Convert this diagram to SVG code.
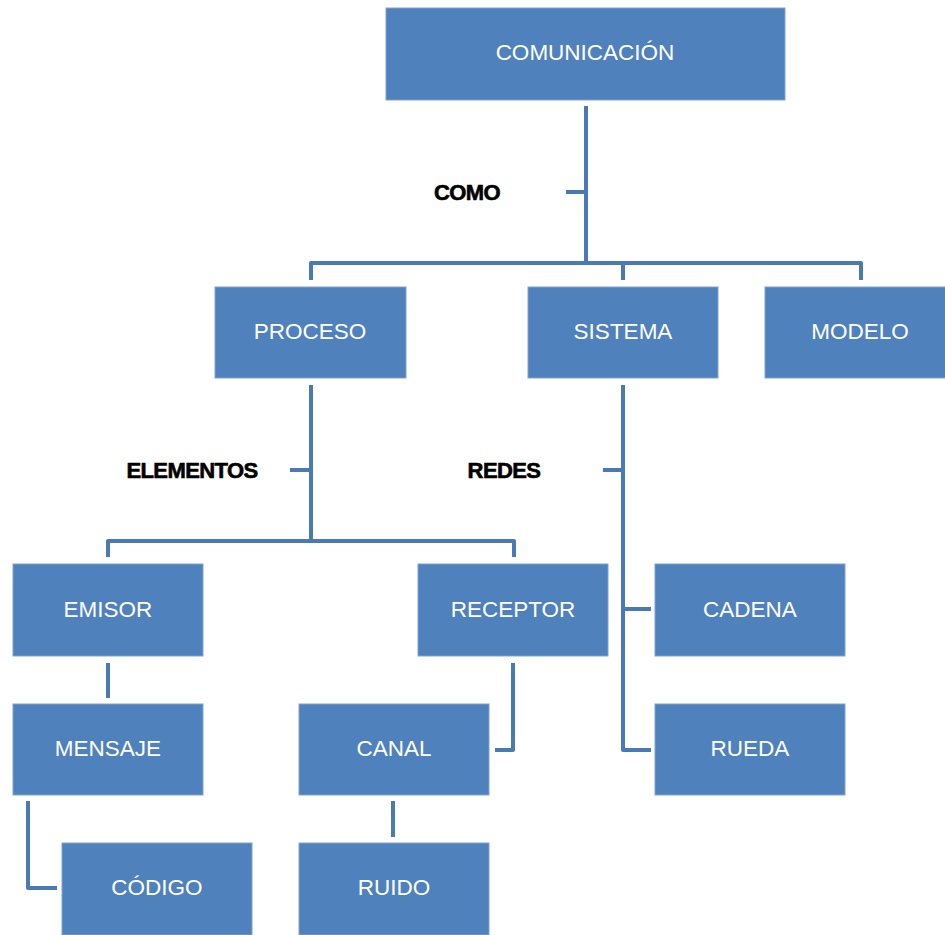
<svg xmlns="http://www.w3.org/2000/svg" width="945" height="935" viewBox="0 0 945 935">
<style>
.box{fill:#4F81BD;stroke:#7FA3D0;stroke-width:1}
.t{font-family:"Liberation Sans",Arial,sans-serif;font-size:22.5px;fill:#ffffff;text-anchor:middle;dominant-baseline:central}
.lbl{font-family:"Liberation Sans",Arial,sans-serif;font-size:22px;font-weight:bold;fill:#000;stroke:#000;stroke-width:0.6;letter-spacing:-0.6px;text-anchor:middle;dominant-baseline:central}
.c{fill:none;stroke:#4A7AB5;stroke-width:4;stroke-linejoin:round;stroke-linecap:butt}
</style>
<rect width="945" height="935" fill="#ffffff"/>
<g id="connectors">
<path class="c" d="M586,106 V263"/>
<path class="c" d="M566,192 H586"/>
<path class="c" d="M311,280 V263 H861 V280"/>
<path class="c" d="M623,263 V280"/>
<path class="c" d="M311,385 V541"/>
<path class="c" d="M290,470 H311"/>
<path class="c" d="M108,557 V541 H514 V557"/>
<path class="c" d="M623,385 V750 H651"/>
<path class="c" d="M603,470 H623"/>
<path class="c" d="M623,609 H651"/>
<path class="c" d="M108,663 V698"/>
<path class="c" d="M28,801 V888 H57"/>
<path class="c" d="M513,663 V750 H495"/>
<path class="c" d="M393,801 V837"/>
</g>
<g id="lbl-como"><text class="lbl" x="467" y="192">COMO</text></g>
<g id="lbl-elementos"><text class="lbl" x="192" y="470">ELEMENTOS</text></g>
<g id="lbl-redes"><text class="lbl" x="504" y="470">REDES</text></g>
<g id="comunicacion"><rect class="box" x="386" y="8" width="399" height="92"/><text class="t" x="585" y="52">COMUNICACIÓN</text></g>
<g id="proceso"><rect class="box" x="215" y="287" width="191" height="91"/><text class="t" x="310" y="331">PROCESO</text></g>
<g id="sistema"><rect class="box" x="528" y="287" width="190" height="91"/><text class="t" x="623" y="331">SISTEMA</text></g>
<g id="modelo"><rect class="box" x="765" y="287" width="181" height="91"/><text class="t" x="860" y="331">MODELO</text></g>
<g id="emisor"><rect class="box" x="13" y="564" width="190" height="92"/><text class="t" x="108" y="609">EMISOR</text></g>
<g id="receptor"><rect class="box" x="418" y="564" width="190" height="92"/><text class="t" x="513" y="609">RECEPTOR</text></g>
<g id="cadena"><rect class="box" x="655" y="564" width="190" height="92"/><text class="t" x="750" y="609">CADENA</text></g>
<g id="mensaje"><rect class="box" x="13" y="704" width="190" height="91"/><text class="t" x="108" y="748">MENSAJE</text></g>
<g id="canal"><rect class="box" x="299" y="704" width="190" height="91"/><text class="t" x="394" y="748">CANAL</text></g>
<g id="rueda"><rect class="box" x="655" y="704" width="190" height="91"/><text class="t" x="750" y="748">RUEDA</text></g>
<g id="codigo"><rect class="box" x="62" y="843" width="190" height="92"/><text class="t" x="157" y="887">CÓDIGO</text></g>
<g id="ruido"><rect class="box" x="299" y="843" width="190" height="92"/><text class="t" x="394" y="887">RUIDO</text></g>
</svg>
